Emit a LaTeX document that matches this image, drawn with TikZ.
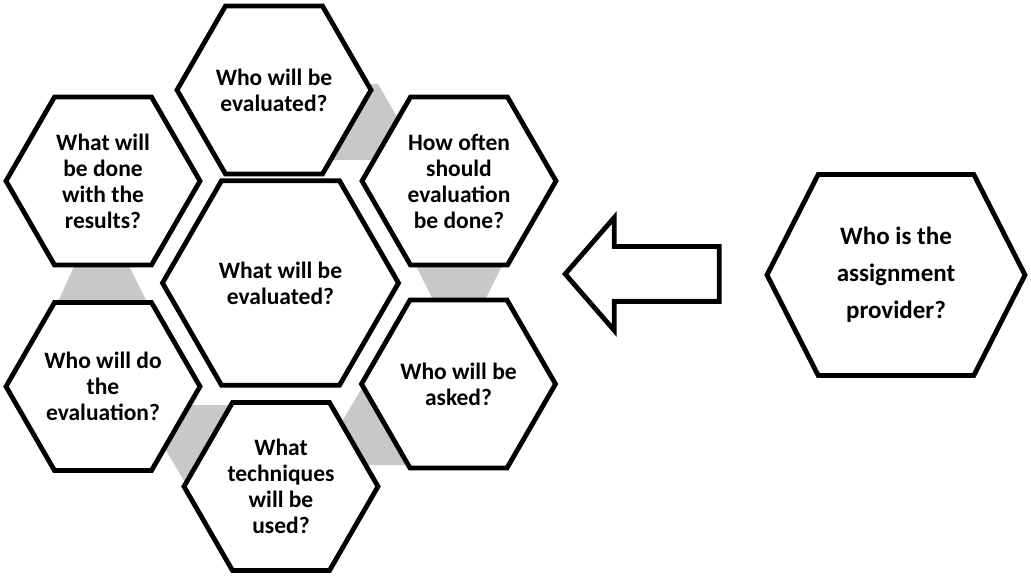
\documentclass[tikz,border=0pt]{standalone}
\usepackage{fontspec}
\setmainfont{Carlito}
\usetikzlibrary{shapes.geometric,shapes.arrows,shapes.symbols}
\definecolor{linkgray}{RGB}{200,200,200}

\begin{document}
\begin{tikzpicture}[x=1pt, y=-1pt, line width=4.8pt,
		hexa/.style={regular polygon, regular polygon sides=6, minimum size=194pt, inner sep=0pt, draw, fill=white, align=center, font=\fontsize{23.5}{26}\selectfont\bfseries},
		bighexa/.style={hexa, minimum size=236pt},
		widehexa/.style={signal, signal to=east and west, signal pointer angle=126, minimum width=258pt, minimum height=201pt, inner sep=0pt, draw, fill=white, align=center, font=\fontsize{25}{37}\selectfont\bfseries},
		link/.style={fill=linkgray, draw=none},
		bigarrow/.style={single arrow, shape border rotate=180, draw, fill=white, minimum height=154pt, minimum width=108pt, single arrow head extend=29pt, single arrow tip angle=98, inner xsep=0pt, inner ysep=25pt}]
		\useasboundingbox (0,0) rectangle (1031,577);
		\fill[link] (370,84) -- (378,84) -- (422,160) -- (326,160) -- cycle;
		\fill[link] (414,262) -- (504,262) -- (484,302) -- (434,302) -- cycle;
		\fill[link] (362,388) -- (410,465) -- (316,465) -- cycle;
		\fill[link] (139,405) -- (234,405) -- (186,484) -- cycle;
		\fill[link] (76,262) -- (127,262) -- (148,304) -- (57,304) -- cycle;
		\node[hexa] (who) at (274,90) {Who will be\\evaluated?};
		\node[hexa] (results) at (103,181) {What will\\be done\\with the\\results?};
		\node[hexa] (often) at (459,181) {How often\\should\\evaluation\\be done?};
		\node[bighexa] (what) at (280.5,283) {What will be\\evaluated?};
		\node[hexa] (doer) at (103,386.5) {Who will do\\the\\evaluation?};
		\node[hexa] (asked) at (458.5,384) {Who will be\\asked?};
		\node[hexa] (tech) at (281,486.5) {What\\techniques\\will be\\used?};
		\node[widehexa] (provider) at (896,275) {Who is the\\assignment\\provider?};
		\node[bigarrow, anchor=tip] (arrow) at (562,274) {};
\end{tikzpicture}
\end{document}
